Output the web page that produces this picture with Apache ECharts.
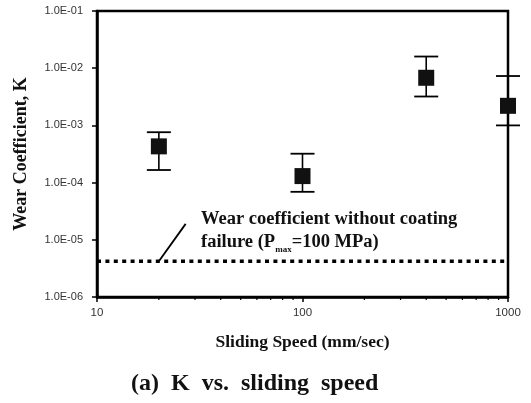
<!DOCTYPE html>
<html><head><meta charset="utf-8">
<script src="https://cdn.jsdelivr.net/npm/echarts@6/dist/echarts.min.js"></script>
<style>html,body{margin:0;padding:0;background:#fff}#c{width:531px;height:403px}</style>
</head><body><div id="c"></div>
<script>
// data
const speeds = [20, 100, 400, 1000];
const kMean = [4.3e-4, 1.3e-4, 6.8e-3, 2.2e-3];
const kLow = [1.66e-4, 6.9e-5, 3.2e-3, 1.0e-3];
const kHigh = [7.6e-4, 3.2e-4, 1.6e-2, 7.3e-3];
const refSpeed = [10, 1000];
const refK = [4.2e-6, 4.2e-6];
const leaderX = [20, 27];
const leaderY = [4.2e-6, 1.9e-5];
const xMinor = [20,30,40,50,60,70,80,90,200,300,400,500,600,700,800,900];
const yTickLabels = {'-1':'1.0E-01','-2':'1.0E-02','-3':'1.0E-03','-4':'1.0E-04','-5':'1.0E-05','-6':'1.0E-06'};
const xTickLabels = {'1':'10','2':'100','3':'1000'};

const chart = echarts.init(document.getElementById('c'), null, {renderer:'canvas'});
const serif = '"Liberation Serif","Times New Roman",serif';
const sans = '"Liberation Sans Narrow","Liberation Sans",Arial,sans-serif';

chart.setOption({
  animation:false,
  backgroundColor:'#fff',
  grid:{left:97, top:11, width:411, height:286, show:true, borderColor:'#000', borderWidth:2.5, backgroundColor:'transparent'},
  xAxis:{type:'log', logBase:10, min:10, max:1000,
    axisLine:{lineStyle:{color:'#000', width:2.5}},
    axisTick:{show:true, length:5, lineStyle:{color:'#000', width:1.5}},
    minorTick:{show:false},
    splitLine:{show:false},
    axisLabel:{color:'#333', fontFamily:sans, fontSize:11.5, margin:10,
      formatter:v=>xTickLabels[String(Math.round(Math.log10(v)))]||''},
    name:'Sliding Speed (mm/sec)', nameLocation:'middle', nameGap:36,
    nameTextStyle:{fontFamily:serif, fontWeight:'bold', fontSize:17.5, color:'#111'}
  },
  yAxis:{type:'log', logBase:10, min:1e-6, max:1e-1,
    axisLine:{lineStyle:{color:'#000', width:2.5}},
    axisTick:{show:true, length:5, lineStyle:{color:'#000', width:1.5}},
    splitLine:{show:false},
    axisLabel:{color:'#333', fontFamily:sans, fontSize:11, margin:14,
      formatter:v=>yTickLabels[String(Math.round(Math.log10(v)))]||''},
    name:'Wear Coefficient, K', nameLocation:'middle', nameGap:67, nameRotate:90,
    nameTextStyle:{fontFamily:serif, fontWeight:'bold', fontSize:18, color:'#111'}
  },
  graphic:[
    {type:'text', left:131, top:372, style:{text:'(a)  K  vs.  sliding  speed', font:'bold 24px '+serif, fill:'#111'}},
    {type:'text', left:201, top:208, style:{
      text:'Wear coefficient without coating\nfailure (P{s|max}=100 MPa)',
      font:'bold 18.5px '+serif, fill:'#111', lineHeight:23,
      rich:{s:{fontFamily:serif, fontWeight:'bold', fontSize:9, verticalAlign:'bottom', padding:[9,0,0,0], fill:'#111'}}
    }}
  ],
  series:[
    {type:'custom', coordinateSystem:'cartesian2d', silent:true,
      data:xMinor.map(v=>[v,1e-6]),
      renderItem:(p,api)=>{const c=api.coord([api.value(0),api.value(1)]);
        return {type:'line', shape:{x1:c[0],y1:c[1],x2:c[0],y2:c[1]+3}, style:{stroke:'#000', lineWidth:1.2}};}
    },
    {type:'line', data:refSpeed.map((x,i)=>[x,refK[i]]), symbol:'none',
      lineStyle:{color:'#000', width:3.5, type:[4,4.4]}},
    {type:'line', data:leaderX.map((x,i)=>[x,leaderY[i]]), symbol:'none',
      lineStyle:{color:'#000', width:1.8}},
    {type:'custom', coordinateSystem:'cartesian2d',
      data:speeds.map((x,i)=>[x,kLow[i],kHigh[i]]),
      renderItem:(p,api)=>{
        const lo=api.coord([api.value(0),api.value(1)]);
        const hi=api.coord([api.value(0),api.value(2)]);
        const w=12;
        return {type:'group', children:[
          {type:'line', shape:{x1:lo[0],y1:lo[1],x2:hi[0],y2:hi[1]}, style:{stroke:'#000', lineWidth:1.6}},
          {type:'line', shape:{x1:lo[0]-w,y1:lo[1],x2:lo[0]+w,y2:lo[1]}, style:{stroke:'#000', lineWidth:1.8}},
          {type:'line', shape:{x1:hi[0]-w,y1:hi[1],x2:hi[0]+w,y2:hi[1]}, style:{stroke:'#000', lineWidth:1.8}}
        ]};
      }
    },
    {type:'scatter', data:speeds.map((x,i)=>[x,kMean[i]]), symbol:'rect', symbolSize:16,
      itemStyle:{color:'#111', opacity:1}, z:5}
  ]
});
</script></body></html>
